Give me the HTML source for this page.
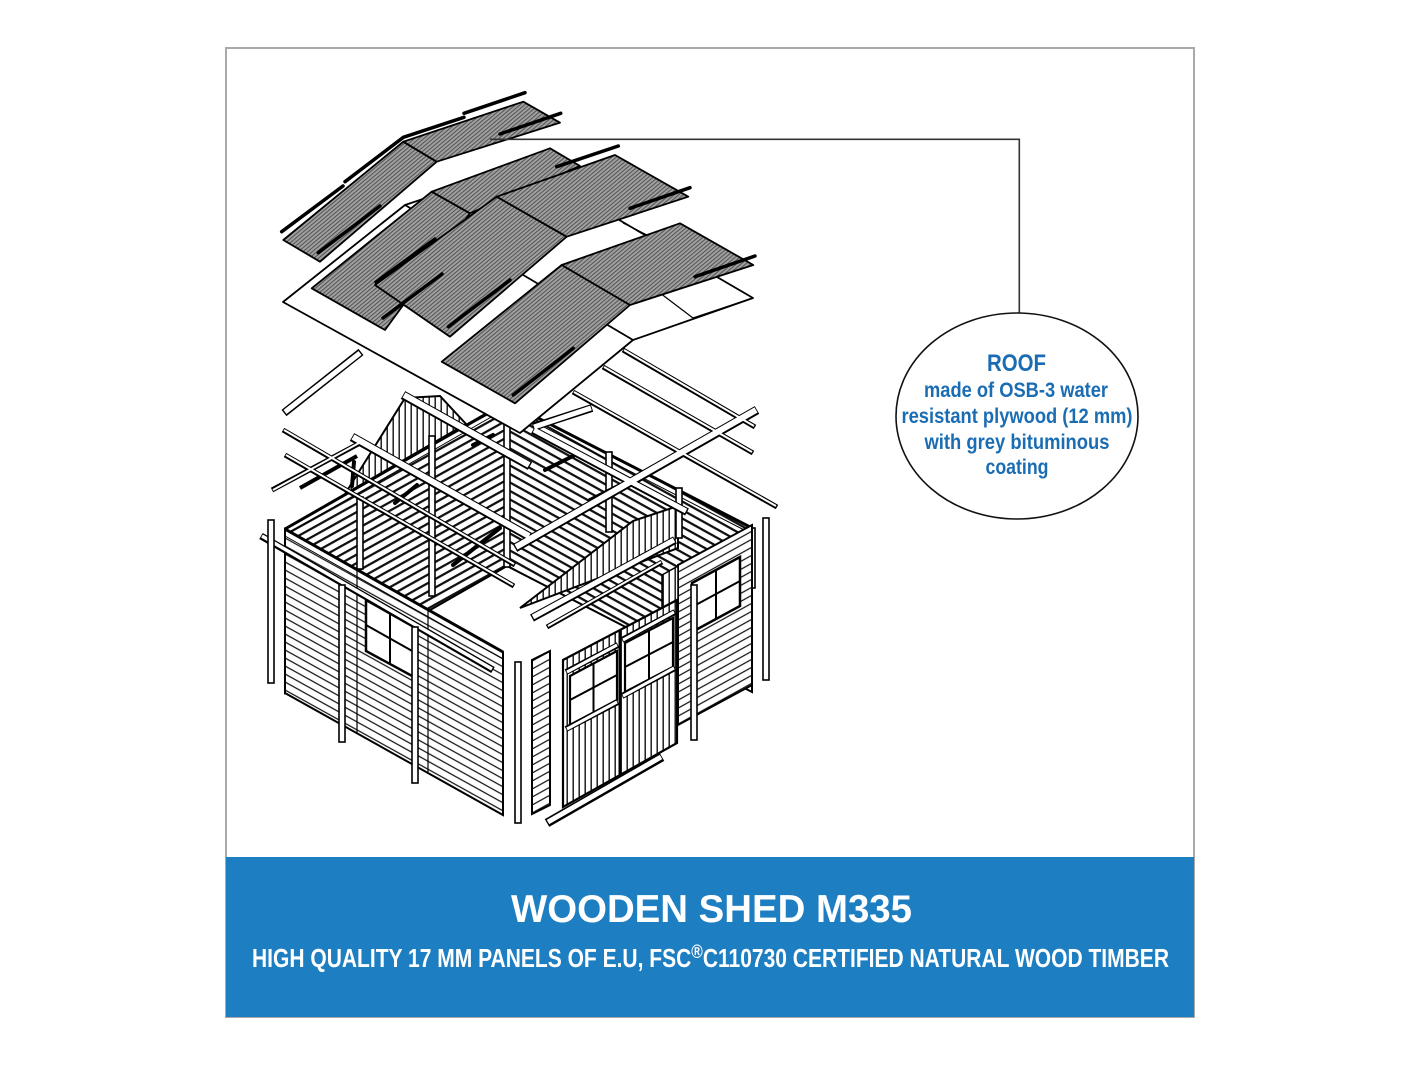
<!DOCTYPE html>
<html><head><meta charset="utf-8">
<style>
html,body{margin:0;padding:0;background:#fff;}
svg{display:block;}
</style></head>
<body>
<svg xmlns="http://www.w3.org/2000/svg" width="1421" height="1065" viewBox="0 0 1421 1065">
<defs>
 <pattern id="hA" patternUnits="userSpaceOnUse" width="10" height="8" patternTransform="skewY(29)">
   <rect width="10" height="8" fill="#fff"/><rect y="3.3" width="10" height="1.4" fill="#111"/>
 </pattern>
 <pattern id="hB" patternUnits="userSpaceOnUse" width="10" height="8" patternTransform="skewY(-29)">
   <rect width="10" height="8" fill="#fff"/><rect y="3.3" width="10" height="1.4" fill="#111"/>
 </pattern>
 <pattern id="iA" patternUnits="userSpaceOnUse" width="10" height="8.5" patternTransform="skewY(29)">
   <rect width="10" height="8.5" fill="#fff"/><rect y="3" width="10" height="2.6" fill="#111"/>
 </pattern>
 <pattern id="iB" patternUnits="userSpaceOnUse" width="10" height="8.5" patternTransform="skewY(-29)">
   <rect width="10" height="8.5" fill="#fff"/><rect y="3" width="10" height="2.6" fill="#111"/>
 </pattern>
 <pattern id="hV" patternUnits="userSpaceOnUse" width="6" height="10">
   <rect width="6" height="10" fill="#fff"/><rect x="2.5" width="1.4" height="10" fill="#111"/>
 </pattern>
 <pattern id="rf" patternUnits="userSpaceOnUse" width="3" height="3" patternTransform="rotate(-40)">
   <rect width="3" height="3" fill="#a2a2a2"/><rect width="3" height="1.1" fill="#555"/>
 </pattern>
</defs>

<!-- frame box -->
<rect x="226" y="48" width="968" height="969" fill="#fff" stroke="#a9a9a9" stroke-width="2"/>

<!-- ============ SHED INTERIOR ============ -->
<polygon points="285,529 507,402 507,566 285,693" fill="url(#iB)" stroke="#000" stroke-width="2"/>
<polygon points="507,402 752,528 752,692 507,566" fill="url(#iA)" stroke="#000" stroke-width="2"/>
<!-- gables -->
<polygon points="345,494 405,398 440,396 466,424" fill="url(#hV)" stroke="#000" stroke-width="2"/>
<polygon points="520,608 633,521 678,506 678,548" fill="url(#hV)" stroke="#000" stroke-width="2"/>
<!-- top plates -->
<g stroke="#000" fill="none">
 <line x1="285" y1="529" x2="507" y2="402" stroke-width="3"/>
 <line x1="285" y1="535" x2="507" y2="408" stroke-width="1"/>
 <line x1="507" y1="402" x2="752" y2="528" stroke-width="3"/>
 <line x1="507" y1="408" x2="752" y2="534" stroke-width="1"/>
</g>
<!-- interior posts -->
<g fill="#fff" stroke="#000" stroke-width="1.6">
 <rect x="357" y="497" width="6" height="72"/>
 <rect x="429" y="436" width="6" height="160"/>
 <rect x="504" y="402" width="6" height="165"/>
 <rect x="606" y="452" width="6" height="80"/>
 <rect x="676" y="488" width="6" height="50"/>
 <rect x="749" y="528" width="6" height="60"/>
</g>
<!-- dark rods -->
<g stroke="#000" stroke-width="4" stroke-linecap="round">
 <line x1="395" y1="503" x2="417" y2="485"/>
 <line x1="473" y1="445" x2="493" y2="435"/>
 <line x1="453" y1="565" x2="500" y2="528"/>
 <line x1="354" y1="462" x2="352" y2="486"/>
 <line x1="545" y1="470" x2="575" y2="455"/>
 <line x1="590" y1="500" x2="620" y2="485"/>
</g>

<!-- beams (white w/ black outline) -->
<g stroke-linecap="butt">
 <g stroke="#000">
  <line x1="284" y1="413" x2="361" y2="352" stroke-width="8"/>
  <line x1="283" y1="430" x2="515" y2="565" stroke-width="5"/>
  <line x1="285" y1="455" x2="514" y2="586" stroke-width="5"/>
  <line x1="352" y1="437" x2="530" y2="537" stroke-width="9"/>
  <line x1="403" y1="395" x2="530" y2="466" stroke-width="9"/>
  <line x1="272" y1="490" x2="360" y2="443" stroke-width="5"/>
  <line x1="300" y1="488" x2="357" y2="456" stroke-width="4"/>
  <line x1="515" y1="548" x2="757" y2="410" stroke-width="9"/>
  <line x1="533" y1="427" x2="592" y2="408" stroke-width="8"/>
  <line x1="533" y1="430" x2="687" y2="512" stroke-width="8"/>
  <line x1="623" y1="350" x2="755" y2="427" stroke-width="5"/>
  <line x1="603" y1="367" x2="753" y2="453" stroke-width="5"/>
  <line x1="573" y1="392" x2="777" y2="507" stroke-width="5"/>
  <line x1="532" y1="618" x2="675" y2="540" stroke-width="8"/>
  <line x1="547" y1="627" x2="662" y2="562" stroke-width="5"/>
 </g>
 <g stroke="#fff">
  <line x1="285" y1="412" x2="360" y2="353" stroke-width="5"/>
  <line x1="284" y1="430" x2="514" y2="564" stroke-width="2"/>
  <line x1="286" y1="455" x2="513" y2="585" stroke-width="2"/>
  <line x1="353" y1="437" x2="529" y2="536" stroke-width="6"/>
  <line x1="404" y1="395" x2="529" y2="465" stroke-width="6"/>
  <line x1="273" y1="490" x2="359" y2="443" stroke-width="2"/>
  <line x1="516" y1="547" x2="756" y2="410" stroke-width="6"/>
  <line x1="534" y1="427" x2="591" y2="408" stroke-width="5"/>
  <line x1="534" y1="430" x2="686" y2="511" stroke-width="5"/>
  <line x1="624" y1="350" x2="754" y2="426" stroke-width="2"/>
  <line x1="604" y1="367" x2="752" y2="452" stroke-width="2"/>
  <line x1="574" y1="392" x2="776" y2="506" stroke-width="2"/>
  <line x1="533" y1="617" x2="674" y2="540" stroke-width="5"/>
  <line x1="548" y1="626" x2="661" y2="562" stroke-width="2"/>
 </g>
</g>

<!-- ============ ROOF ============ -->
<g stroke="#000" stroke-width="1.8" stroke-linejoin="round">
 <polygon points="283,302 405,205 525,165 753,298 633,340 520,433" fill="#fff"/>
 <line x1="405" y1="205" x2="633" y2="340"/>
 <line x1="623" y1="223" x2="647" y2="235" stroke-width="1.2"/>
 <line x1="660" y1="293" x2="693" y2="318" stroke-width="1.2"/>
 <line x1="693" y1="318" x2="753" y2="298" stroke-width="1.2"/>
 <!-- top pair -->
 <polygon points="283.3,240 403.3,141.7 436.7,161.7 320,261.7" fill="url(#rf)"/>
 <polygon points="403.3,141.7 523.3,101.7 560,122.7 436.7,161.7" fill="url(#rf)"/>
 <!-- panel A -->
 <polygon points="311.7,288.3 431.7,191.7 470,213.3 385,330" fill="url(#rf)"/>
 <polygon points="431.7,191.7 550,148.3 580,166 470,213.3" fill="url(#rf)"/>
 <!-- panel B -->
 <polygon points="375,285 496.7,196.7 566.7,236.7 450,336.7" fill="url(#rf)"/>
 <polygon points="496.7,196.7 615,155 688.3,196.7 566.7,236.7" fill="url(#rf)"/>
 <!-- panel C -->
 <polygon points="441.7,361.7 561.7,265 630,305 515,403.3" fill="url(#rf)"/>
 <polygon points="561.7,265 680,223.3 753.3,265 630,305" fill="url(#rf)"/>
</g>
<!-- black strips -->
<g stroke="#000" stroke-width="3.5" fill="none" stroke-linecap="round">
 <polyline points="281.7,231.7 343,186"/>
 <polyline points="345,181.7 403.3,137.3 464,117.3"/>
 <line x1="464" y1="113.3" x2="525" y2="92.7"/>
 <line x1="500" y1="134" x2="560.7" y2="113.3"/>
 <line x1="318.3" y1="252.7" x2="380" y2="206"/>
 <line x1="376" y1="282" x2="435" y2="239"/>
 <line x1="556.7" y1="166.7" x2="618.3" y2="146"/>
 <line x1="630" y1="208.3" x2="690" y2="187.7"/>
 <line x1="448.3" y1="326.7" x2="510" y2="280"/>
 <line x1="383" y1="318" x2="442" y2="274"/>
 <line x1="695" y1="276.7" x2="755" y2="256"/>
 <line x1="513.3" y1="395" x2="573.3" y2="348.3"/>
</g>

<!-- ============ FRONT-LEFT WALL ============ -->
<polygon points="285,529 503,652 503,815 285,693" fill="url(#hA)" stroke="#000" stroke-width="2"/>
<line x1="285" y1="529" x2="503" y2="652" stroke="#000" stroke-width="3"/>
<line x1="285" y1="536" x2="503" y2="659" stroke="#000" stroke-width="1"/>
<line x1="357" y1="570" x2="357" y2="733" stroke="#000" stroke-width="1.2"/>
<line x1="428" y1="610" x2="428" y2="773" stroke="#000" stroke-width="1.2"/>
<!-- window -->
<polygon points="366,600 414,627 414,677 366,651" fill="#fff" stroke="#000" stroke-width="2.5"/>
<line x1="390" y1="613" x2="390" y2="664" stroke="#000" stroke-width="2"/>
<line x1="366" y1="625" x2="414" y2="652" stroke="#000" stroke-width="2"/>
<!-- front beam -->
<line x1="261" y1="536" x2="493" y2="670" stroke="#000" stroke-width="7"/>
<line x1="262" y1="536" x2="492" y2="669" stroke="#fff" stroke-width="3.5"/>
<!-- posts -->
<g fill="#fff" stroke="#000" stroke-width="1.6">
 <rect x="268" y="520" width="6" height="163"/>
 <rect x="339" y="585" width="6" height="157"/>
 <rect x="412" y="627" width="6" height="156"/>
 <rect x="515" y="662" width="6" height="161"/>
 <rect x="763" y="518" width="6" height="162"/>
</g>

<!-- ============ FRONT-RIGHT WALL ============ -->
<polygon points="532,660 550,651 550,805 532,814" fill="url(#hB)" stroke="#000" stroke-width="2"/>
<polygon points="678,565 752,525 752,685 678,725" fill="url(#hB)" stroke="#000" stroke-width="2"/>
<polygon points="662,575 678,566 678,600 662,608" fill="url(#hV)" stroke="#000" stroke-width="1.5"/>
<!-- right window -->
<polygon points="692,583 740,557 740,606 692,632" fill="#fff" stroke="#000" stroke-width="2.5"/>
<line x1="716" y1="570" x2="716" y2="619" stroke="#000" stroke-width="2"/>
<line x1="692" y1="607" x2="740" y2="581" stroke="#000" stroke-width="2"/>
<rect x="691" y="585" width="6" height="155" fill="#fff" stroke="#000" stroke-width="1.6"/>
<!-- door -->
<polygon points="563,660 677,600 677,743 563,807" fill="url(#hV)" stroke="#000" stroke-width="2.2"/>
<line x1="620" y1="630" x2="620" y2="776" stroke="#000" stroke-width="3"/>
<polygon points="570,676 617,651 617,700 570,725" fill="#fff" stroke="#000" stroke-width="2.2"/>
<line x1="593.5" y1="663" x2="593.5" y2="712" stroke="#000" stroke-width="2"/>
<line x1="570" y1="700" x2="617" y2="675" stroke="#000" stroke-width="2"/>
<polygon points="625,643 673,618 673,667 625,692" fill="#fff" stroke="#000" stroke-width="2.2"/>
<line x1="649" y1="630" x2="649" y2="679" stroke="#000" stroke-width="2"/>
<line x1="625" y1="667" x2="673" y2="642" stroke="#000" stroke-width="2"/>
<g stroke="#000" stroke-width="6"><line x1="566" y1="672" x2="618" y2="645"/><line x1="566" y1="729" x2="618" y2="702"/><line x1="622" y1="640" x2="675" y2="612"/><line x1="622" y1="696" x2="675" y2="668"/></g>
<g stroke="#fff" stroke-width="3"><line x1="567" y1="672" x2="617" y2="645"/><line x1="567" y1="729" x2="617" y2="702"/><line x1="623" y1="640" x2="674" y2="612"/><line x1="623" y1="696" x2="674" y2="668"/></g>
<!-- threshold -->
<line x1="547" y1="823" x2="662" y2="757" stroke="#000" stroke-width="9"/>
<line x1="548" y1="822" x2="661" y2="757" stroke="#fff" stroke-width="5"/>

<!-- ============ CALLOUT ============ -->
<path d="M490 139.3 H1019.3 V313" fill="none" stroke="#333" stroke-width="1.6"/>
<ellipse cx="1017" cy="416" rx="121" ry="103" fill="#fff" stroke="#111" stroke-width="1.6"/>
<g font-family="'Liberation Sans', Arial, sans-serif" font-weight="bold" fill="#1b6db3">
 <text x="987" y="371" font-size="24" textLength="59" lengthAdjust="spacingAndGlyphs">ROOF</text>
 <text x="924" y="397" font-size="21.5" textLength="184" lengthAdjust="spacingAndGlyphs">made of OSB-3 water</text>
 <text x="901.5" y="423" font-size="21.5" textLength="231" lengthAdjust="spacingAndGlyphs">resistant plywood (12 mm)</text>
 <text x="924.5" y="449" font-size="21.5" textLength="185" lengthAdjust="spacingAndGlyphs">with grey bituminous</text>
 <text x="985.5" y="474" font-size="21.5" textLength="63" lengthAdjust="spacingAndGlyphs">coating</text>
</g>

<!-- ============ BANNER ============ -->
<rect x="226" y="857" width="968" height="160" fill="#1e7ec2"/>
<g font-family="'Liberation Sans', Arial, sans-serif" font-weight="bold" fill="#fff">
 <text x="511" y="922" font-size="39" textLength="401" lengthAdjust="spacingAndGlyphs">WOODEN SHED M335</text>
 <text x="252" y="967" font-size="25.5" textLength="917" lengthAdjust="spacingAndGlyphs">HIGH QUALITY 17 MM PANELS OF E.U, FSC<tspan font-size="19" dy="-9">®</tspan><tspan dy="9">C110730 CERTIFIED NATURAL WOOD TIMBER</tspan></text>
</g>
</svg>
</body></html>
